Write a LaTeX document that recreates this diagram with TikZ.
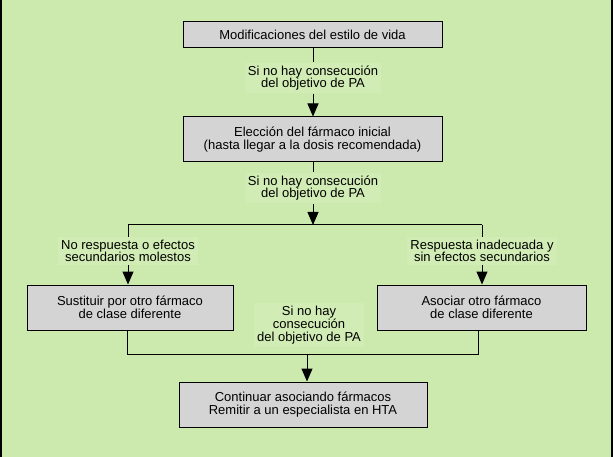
\documentclass[tikz,border=0pt]{standalone}
\usepackage{fontspec}
\setmainfont{Liberation Sans}
\usetikzlibrary{arrows.meta}
\definecolor{bgc}{HTML}{CDEAAE}
\definecolor{lblc}{HTML}{D1ECB4}
\definecolor{boxc}{HTML}{D4D4D4}
\tikzset{
  txt/.style={font=\fontsize{13pt}{12.7pt}\selectfont, align=center, text=black},
  box/.style={txt, draw=black, line width=1pt, fill=boxc, minimum height=#1, inner sep=0pt},
  lbl/.style={txt, fill=lblc, inner sep=3pt},
  con/.style={line width=1pt, draw=black},
  arr/.style={con, -{Triangle[length=13pt,width=11pt]}}
}
\begin{document}
\begin{tikzpicture}[x=1pt,y=-1pt]
\fill[bgc] (0,0) rectangle (613,457);
\useasboundingbox (0,0) rectangle (613,457);
\fill[black] (0,0) rectangle (1.6,457);
\fill[black] (611.4,0) rectangle (613,457);

\node[box=26pt, minimum width=259pt] (b1) at (312.5,35) {Modificaciones del estilo de vida};
\node[box=45pt, minimum width=259pt] (b2) at (312.5,139.5) {Elección del fármaco inicial\\(hasta llegar a la dosis recomendada)};
\node[box=45pt, minimum width=206pt] (b3) at (130,307.5) {Sustituir por otro fármaco\\de clase diferente};
\node[box=45pt, minimum width=209pt] (b4) at (481.5,307.5) {Asociar otro fármaco\\de clase diferente};
\node[box=45pt, minimum width=248pt] (b5) at (303,404.5) {Continuar asociando fármacos\\Remitir a un especialista en HTA};

\node[lbl] (l1) at (313,78) {Si no hay consecución\\del objetivo de PA};
\node[lbl] (l2) at (313,188) {Si no hay consecución\\del objetivo de PA};
\node[lbl] (l3) at (128,251) {No respuesta o efectos\\secundarios molestos};
\node[lbl] (l4) at (482,251) {Respuesta inadecuada y\\sin efectos secundarios};
\node[lbl] (l5) at (309,325) {Si no hay\\consecución\\del objetivo de PA};

\coordinate (jt) at (313,225);
\coordinate (jl) at (128,225);
\coordinate (jr) at (482,225);
\coordinate (bl) at (127,354);
\coordinate (br) at (478,354);
\coordinate (bm) at (307,354);

\draw[con] (b1.south -| l1) -- (l1);
\draw[arr] (l1) -- (b2.north -| l1);
\draw[con] (b2.south -| l2) -- (l2);
\draw[arr] (l2) -- (jt);
\draw[con] (jl) -- (jr);
\draw[con] (jl) -- (l3);
\draw[arr] (l3) -- (b3.north -| l3);
\draw[con] (jr) -- (l4);
\draw[arr] (l4) -- (b4.north -| l4);
\draw[con] (b3.south -| bl) -- (bl) -- (br) -- (b4.south -| br);
\draw[arr] (bm) -- (b5.north -| bm);
\end{tikzpicture}
\end{document}
